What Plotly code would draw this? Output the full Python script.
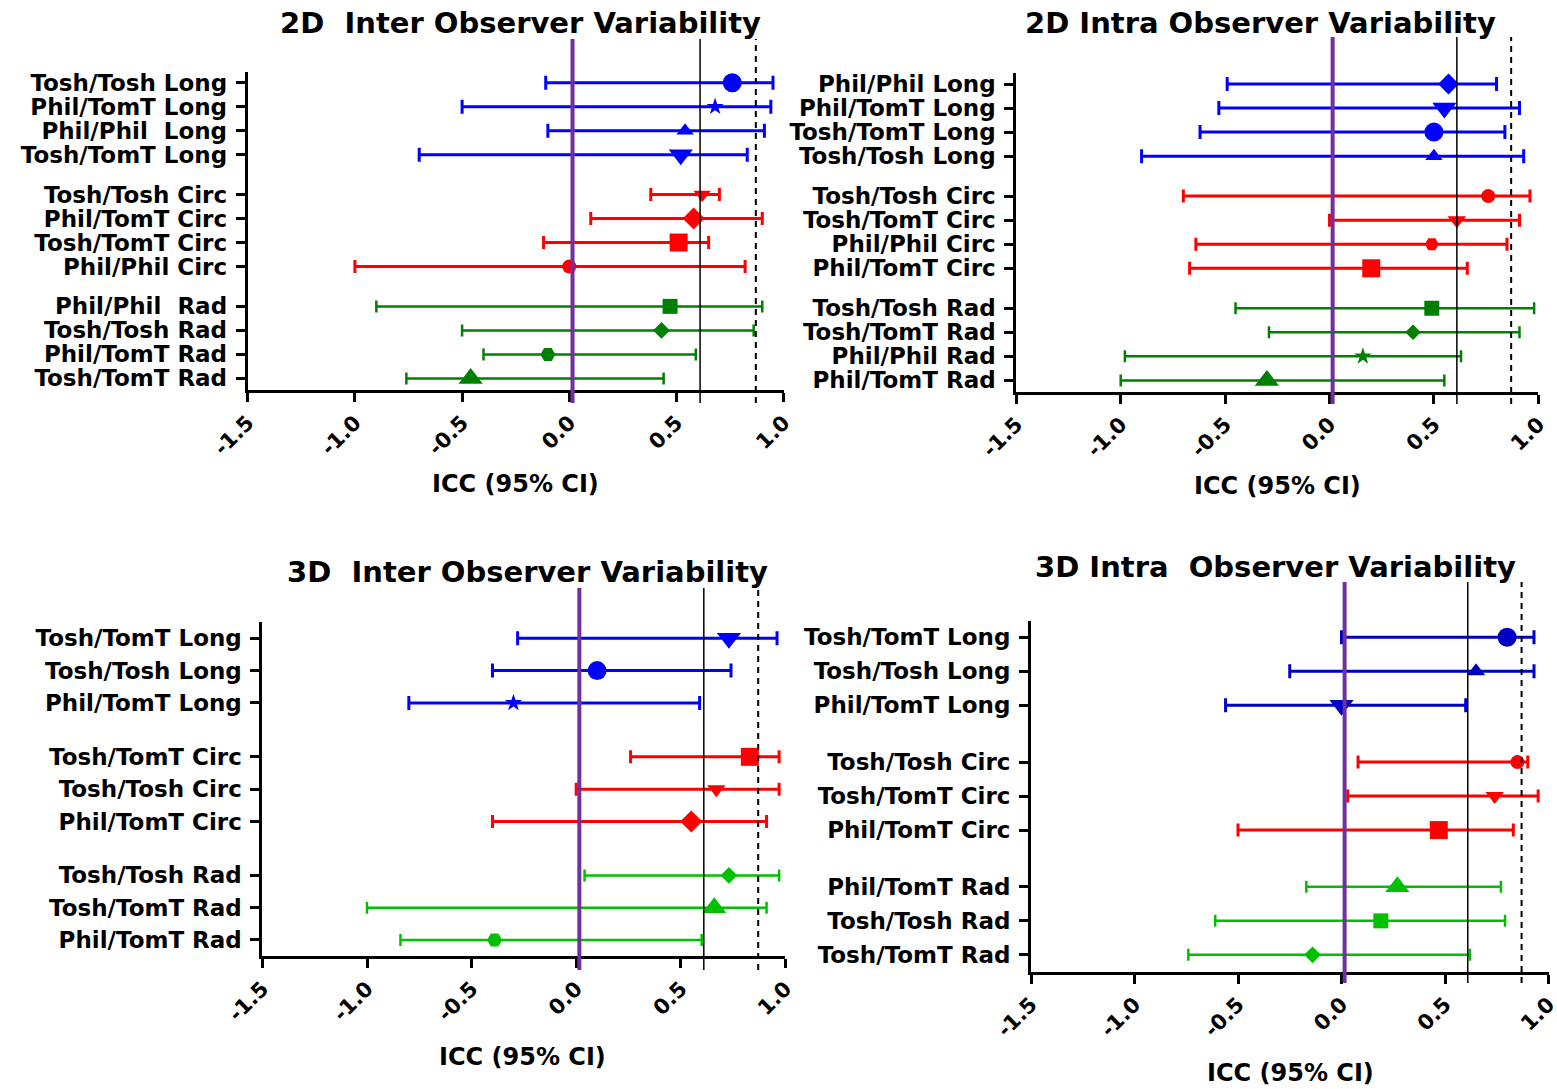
import plotly.graph_objects as go

W, H = 1557, 1089

# ---------------- data ----------------
tick_values = [-1.5, -1.0, -0.5, 0.0, 0.5, 1.0]
tick_labels = ["-1.5", "-1.0", "-0.5", "0.0", "0.5", "1.0"]

# reference ICC levels drawn as vertical lines
icc_zero_line = 0.015
icc_moderate = 0.61
icc_good = 0.87

inter2d_labels = ["Tosh/Tosh Long", "Phil/TomT Long", "Phil/Phil\u00a0 Long", "Tosh/TomT Long",
                  "Tosh/Tosh Circ", "Phil/TomT Circ", "Tosh/TomT Circ", "Phil/Phil Circ",
                  "Phil/Phil\u00a0 Rad", "Tosh/Tosh Rad", "Phil/TomT Rad", "Tosh/TomT Rad"]
inter2d_icc = [0.76, 0.68, 0.54, 0.52, 0.62, 0.58, 0.51, 0.00, 0.47, 0.43, -0.10, -0.46]
inter2d_lo = [-0.11, -0.50, -0.10, -0.70, 0.38, 0.10, -0.12, -1.00, -0.90, -0.50, -0.40, -0.76]
inter2d_hi = [0.95, 0.94, 0.91, 0.83, 0.70, 0.90, 0.65, 0.82, 0.90, 0.86, 0.59, 0.44]

intra2d_labels = ["Phil/Phil Long", "Phil/TomT Long", "Tosh/TomT Long", "Tosh/Tosh Long",
                  "Tosh/Tosh Circ", "Tosh/TomT Circ", "Phil/Phil Circ", "Phil/TomT Circ",
                  "Tosh/Tosh Rad", "Tosh/TomT Rad", "Phil/Phil Rad", "Phil/TomT Rad"]
intra2d_icc = [0.57, 0.55, 0.50, 0.50, 0.76, 0.61, 0.49, 0.20, 0.49, 0.40, 0.16, -0.30]
intra2d_lo = [-0.49, -0.53, -0.62, -0.90, -0.70, 0.00, -0.64, -0.67, -0.45, -0.29, -0.98, -1.00]
intra2d_hi = [0.80, 0.91, 0.84, 0.93, 0.96, 0.91, 0.85, 0.66, 0.98, 0.91, 0.63, 0.55]

inter3d_labels = ["Tosh/TomT Long", "Tosh/Tosh Long", "Phil/TomT Long",
                  "Tosh/TomT Circ", "Tosh/Tosh Circ", "Phil/TomT Circ",
                  "Tosh/Tosh Rad", "Tosh/TomT Rad", "Phil/TomT Rad"]
inter3d_icc = [0.73, 0.10, -0.30, 0.83, 0.67, 0.55, 0.73, 0.66, -0.39]
inter3d_lo = [-0.28, -0.40, -0.80, 0.26, 0.00, -0.40, 0.04, -1.00, -0.84]
inter3d_hi = [0.96, 0.74, 0.59, 0.97, 0.97, 0.91, 0.97, 0.91, 0.60]

intra3d_labels = ["Tosh/TomT Long", "Tosh/Tosh Long", "Phil/TomT Long",
                  "Tosh/Tosh Circ", "Tosh/TomT Circ", "Phil/TomT Circ",
                  "Phil/TomT Rad", "Tosh/Tosh Rad", "Tosh/TomT Rad"]
intra3d_icc = [0.80, 0.65, 0.00, 0.85, 0.74, 0.47, 0.27, 0.19, -0.14]
intra3d_lo = [0.00, -0.25, -0.56, 0.08, 0.03, -0.50, -0.17, -0.61, -0.74]
intra3d_hi = [0.93, 0.93, 0.60, 0.90, 0.95, 0.83, 0.77, 0.79, 0.62]

# ---------------- styling ----------------
FONT = "DejaVu Sans, Liberation Sans, Arial, sans-serif"
BLUE, DARK_BLUE = "#0000FF", "#0000C4"
RED = "#FF0000"
GREEN, BRIGHT_GREEN = "#008000", "#00C000"
PURPLE = "#7030A0"

panels = [
    dict(title="2D\u00a0 Inter Observer Variability",
         labels=inter2d_labels, icc=inter2d_icc, lo=inter2d_lo, hi=inter2d_hi,
         group=4, gap=0.66, colors=(BLUE, RED, GREEN),
         symbols=["circle", "star", "triangle-up", "triangle-down",
                  "triangle-down", "diamond", "square", "circle",
                  "square", "diamond", "hexagon2", "triangle-up"],
         sizes=[19, 13, 15, 21, 15, 17, 18, 14, 15, 13, 15, 21],
         box=(247.7, 71.7, 783.7, 390.0), row0=82.7, row=24.0,
         title_xy=(520, 23), xtitle_xy=(515, 484), vline=(39, 403)),
    dict(title="2D Intra Observer Variability",
         labels=intra2d_labels, icc=intra2d_icc, lo=intra2d_lo, hi=intra2d_hi,
         group=4, gap=0.66, colors=(BLUE, RED, GREEN),
         symbols=["diamond", "triangle-down", "circle", "triangle-up",
                  "circle", "triangle-down", "hexagon2", "square",
                  "square", "diamond", "star", "triangle-up"],
         sizes=[16, 21, 19, 15, 14, 16, 14, 18, 15, 12, 13, 21],
         box=(1016.3, 72.7, 1538.3, 391.7), row0=84.0, row=24.06,
         title_xy=(1260, 23), xtitle_xy=(1277, 486), vline=(37, 404)),
    dict(title="3D\u00a0 Inter Observer Variability",
         labels=inter3d_labels, icc=inter3d_icc, lo=inter3d_lo, hi=inter3d_hi,
         group=3, gap=0.67, colors=(BLUE, RED, BRIGHT_GREEN),
         symbols=["triangle-down", "circle", "star",
                  "square", "triangle-down", "diamond",
                  "diamond", "triangle-up", "hexagon2"],
         sizes=[21, 19, 13, 18, 16, 17, 13, 21, 15],
         box=(262.4, 621.7, 785.4, 956.0), row0=638.3, row=32.3,
         title_xy=(527, 572), xtitle_xy=(522, 1057), vline=(588, 970)),
    dict(title="3D Intra\u00a0 Observer Variability",
         labels=intra3d_labels, icc=intra3d_icc, lo=intra3d_lo, hi=intra3d_hi,
         group=3, gap=0.67, colors=(DARK_BLUE, RED, BRIGHT_GREEN),
         symbols=["circle", "triangle-up", "triangle-down",
                  "circle", "triangle-down", "square",
                  "triangle-up", "square", "diamond"],
         sizes=[19, 16, 21, 14, 16, 18, 21, 15, 13],
         box=(1031.0, 620.7, 1548.5, 971.7), row0=637.3, row=34.0,
         title_xy=(1275, 567), xtitle_xy=(1290, 1073), vline=(582, 983)),
]

cap_width = (7, 6.5, 6)
bar_thick = (3, 3, 2.5)


def px_x(x):
    return x / W


def px_y(y):
    return 1 - y / H


fig = go.Figure()
layout = dict(
    template="none",
    width=W, height=H, margin=dict(l=0, r=0, t=0, b=0, autoexpand=False),
    paper_bgcolor="white", plot_bgcolor="white", showlegend=False,
    font=dict(family=FONT, color="black", weight="bold"),
)
annotations = []
shapes = []

for k, p in enumerate(panels, start=1):
    xa = "x" if k == 1 else f"x{k}"
    ya = "y" if k == 1 else f"y{k}"
    n = len(p["labels"])
    ypos = [i + p["gap"] * (i // p["group"]) for i in range(n)]

    for g, color in enumerate(p["colors"]):
        idx = list(range(g * p["group"], (g + 1) * p["group"]))
        fig.add_trace(go.Scatter(
            x=[p["icc"][i] for i in idx], y=[ypos[i] for i in idx],
            xaxis=xa, yaxis=ya, mode="markers", cliponaxis=False,
            marker=dict(color=color, opacity=1,
                        symbol=[p["symbols"][i] for i in idx],
                        size=[p["sizes"][i] for i in idx], line=dict(width=0)),
            error_x=dict(type="data", symmetric=False,
                         array=[p["hi"][i] - p["icc"][i] for i in idx],
                         arrayminus=[p["icc"][i] - p["lo"][i] for i in idx],
                         color=color, thickness=bar_thick[g], width=cap_width[g]),
            hoverinfo="x+y",
        ))

    x0, y0, x1, y1 = p["box"]
    yr = [(y1 - p["row0"]) / p["row"], (y0 - p["row0"]) / p["row"]]
    layout["xaxis" if k == 1 else f"xaxis{k}"] = dict(
        domain=[px_x(x0), px_x(x1)], anchor=ya, range=[-1.5, 1.0], automargin=False,
        tickvals=tick_values, ticktext=tick_labels, tickangle=-45,
        ticklabeloverflow="allow",
        ticks="outside", ticklen=9, tickwidth=3, tickcolor="black",
        showline=True, linewidth=3, linecolor="black", showgrid=False, zeroline=False,
        tickfont=dict(size=21, family=FONT, color="black", weight="bold"),
    )
    layout["yaxis" if k == 1 else f"yaxis{k}"] = dict(
        domain=[px_y(y1), px_y(y0)], anchor=xa, range=yr, automargin=False,
        tickvals=ypos, ticktext=p["labels"], ticklabeloverflow="allow",
        ticks="outside", ticklen=9, tickwidth=3, tickcolor="black",
        ticklabelstandoff=4,
        showline=True, linewidth=3, linecolor="black", showgrid=False, zeroline=False,
        tickfont=dict(size=23, family=FONT, color="black", weight="bold"),
    )

    vy0, vy1 = px_y(p["vline"][1]), px_y(p["vline"][0])
    shapes.append(dict(type="line", xref=xa, yref="paper", x0=icc_zero_line, x1=icc_zero_line,
                       y0=vy0, y1=vy1, line=dict(color=PURPLE, width=4)))
    shapes.append(dict(type="line", xref=xa, yref="paper", x0=icc_moderate, x1=icc_moderate,
                       y0=vy0, y1=vy1, line=dict(color="black", width=1.5)))
    shapes.append(dict(type="line", xref=xa, yref="paper", x0=icc_good, x1=icc_good,
                       y0=vy0, y1=vy1, line=dict(color="black", width=2, dash="6px,5px")))

    tx, ty = p["title_xy"]
    annotations.append(dict(text=p["title"], xref="paper", yref="paper",
                            x=px_x(tx), y=px_y(ty), xanchor="center", yanchor="middle",
                            showarrow=False,
                            font=dict(size=29, family=FONT, color="black", weight="bold")))
    ax, ay = p["xtitle_xy"]
    annotations.append(dict(text="ICC (95% CI)", xref="paper", yref="paper",
                            x=px_x(ax), y=px_y(ay), xanchor="center", yanchor="middle",
                            showarrow=False,
                            font=dict(size=24, family=FONT, color="black", weight="bold")))

layout["annotations"] = annotations
layout["shapes"] = shapes
fig.update_layout(**layout)
fig.write_html("out.html")
